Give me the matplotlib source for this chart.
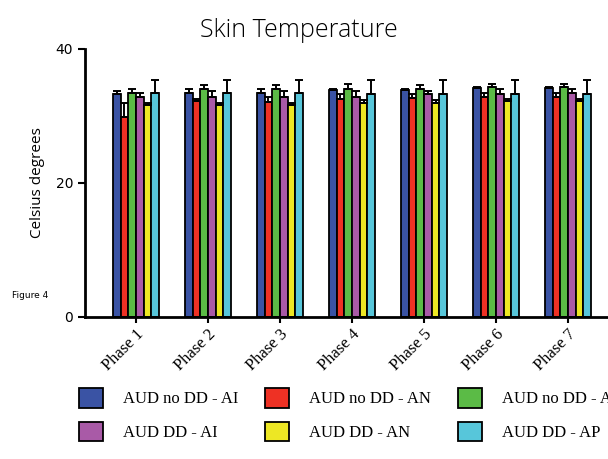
import matplotlib
matplotlib.use('Agg')
import matplotlib.pyplot as plt
import matplotlib.transforms as mtransforms
import numpy as np

# skin temperature per phase, mean and upper error
phases = ['Phase 1', 'Phase 2', 'Phase 3', 'Phase 4', 'Phase 5', 'Phase 6', 'Phase 7']
groups = ['AUD no DD - AI', 'AUD no DD - AN', 'AUD no DD - AP',
          'AUD DD - AI', 'AUD DD - AN', 'AUD DD - AP']
colors = ['#3A53A4', '#EE3124', '#5BBB46', '#A95AA7', '#EDE724', '#57C6DA']

means = [
    [33.3, 33.5, 33.5, 33.85, 33.85, 34.15, 34.15],   # AUD no DD - AI
    [29.9, 32.2, 32.1, 32.5, 32.75, 32.9, 32.9],      # AUD no DD - AN
    [33.5, 34.05, 34.05, 34.05, 34.05, 34.35, 34.35], # AUD no DD - AP
    [32.9, 32.9, 32.9, 32.9, 33.3, 33.3, 33.5],       # AUD DD - AI
    [31.6, 31.6, 31.6, 31.9, 31.9, 32.3, 32.2],       # AUD DD - AN
    [33.5, 33.5, 33.5, 33.3, 33.3, 33.3, 33.3],       # AUD DD - AP
]
errors = [
    [0.5, 0.5, 0.5, 0.2, 0.2, 0.15, 0.15],
    [2.1, 0.4, 0.8, 0.8, 0.55, 0.6, 0.6],
    [0.5, 0.55, 0.55, 0.75, 0.55, 0.45, 0.45],
    [0.6, 0.85, 0.85, 0.85, 0.45, 0.8, 0.6],
    [0.4, 0.4, 0.4, 0.5, 0.5, 0.3, 0.4],
    [1.9, 1.9, 1.9, 2.1, 2.1, 2.1, 2.1],
]

fig = plt.figure(figsize=(6.08, 4.59), dpi=100)
ax = fig.add_axes([85/608, 1-317/459, 534/608, 268/459])

x = np.arange(len(phases))
w = 0.107
for i in range(len(groups)):
    pos = x + (i - 2.5) * w
    ax.bar(pos, means[i], width=w, color=colors[i], edgecolor='black',
           linewidth=1.3, label=groups[i], zorder=2)
    ax.errorbar(pos, means[i], yerr=[np.zeros(len(phases)), errors[i]],
                fmt='none', ecolor='black', elinewidth=1.4, capsize=3,
                capthick=1.4, zorder=3)

ax.set_xlim(-0.708, 6.708)
ax.set_ylim(0, 40)
ax.set_yticks([0, 20, 40])
ax.set_xticks(x)
ax.set_xticklabels(phases, rotation=45, ha='right', va='top',
                   rotation_mode='anchor', family='Liberation Serif', fontsize=12)
# nudge rotated labels a little to the right, like the original
shift = mtransforms.ScaledTranslation(4/100, 0, fig.dpi_scale_trans)
for lab in ax.get_xticklabels():
    lab.set_transform(lab.get_transform() + shift)
ax.tick_params(axis='y', length=5, width=1.5, labelsize=10)
ax.tick_params(axis='x', length=4, width=1.5, pad=3)
for s in ['top', 'right']:
    ax.spines[s].set_visible(False)
for s in ['left', 'bottom']:
    ax.spines[s].set_linewidth(2)

ax.set_ylabel('Celsius degrees', fontsize=11, family='Open Sans')
ax.yaxis.set_label_coords(-0.074, 0.5)

fig.text(299/608, 1-37/459, 'Skin Temperature', ha='center', va='baseline',
         fontsize=18, family='Open Sans', fontweight='light')
fig.text(12/608, 1-295/459, 'Figure 4', ha='left', va='center', fontsize=6.5)

handles, labels = ax.get_legend_handles_labels()
order = [0, 3, 1, 4, 2, 5]
fig.legend([handles[k] for k in order], [labels[k] for k in order],
           loc='upper left', bbox_to_anchor=(79/608, 1-388/459), ncol=3,
           frameon=False, borderpad=0, borderaxespad=0,
           handlelength=1.44, handleheight=1.44, handletextpad=1.2,
           labelspacing=0.84, columnspacing=1.6,
           prop={'family': 'Liberation Serif', 'size': 12})

plt.savefig('out.png', dpi=100)
